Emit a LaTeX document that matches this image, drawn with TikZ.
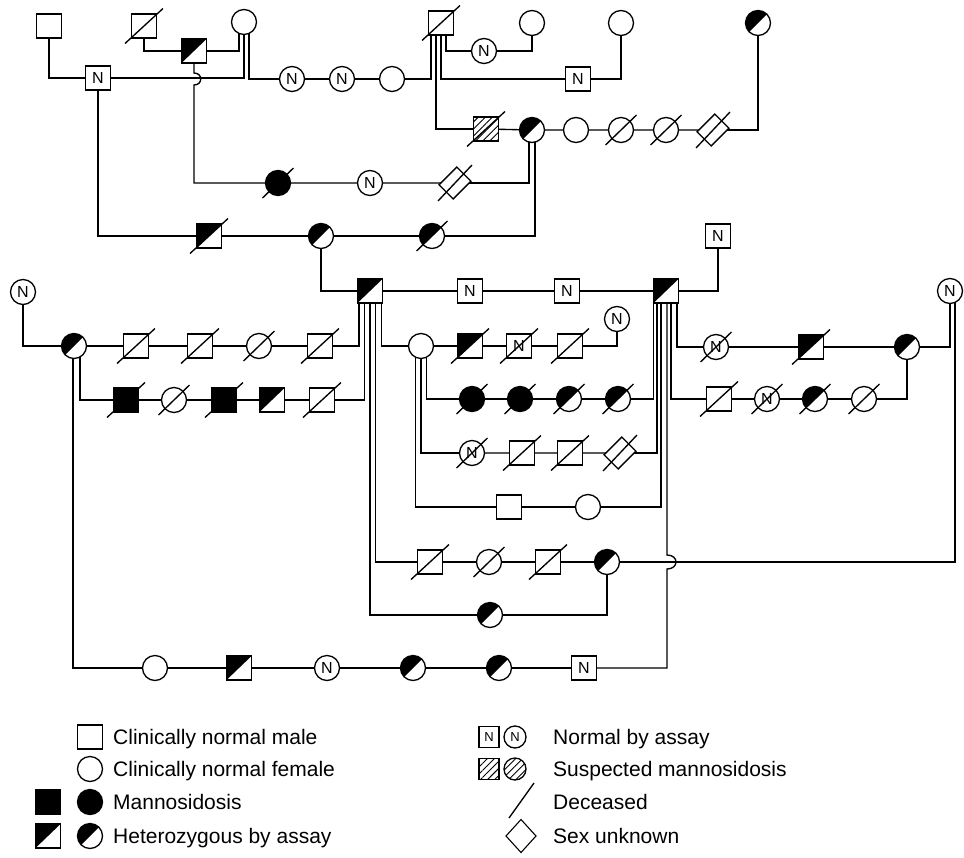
\documentclass[tikz,border=0pt]{standalone}
\usepackage{fontspec}
\setmainfont{Liberation Sans}
\usetikzlibrary{patterns.meta,backgrounds,shapes.geometric}
\begin{document}
\begin{tikzpicture}[x=1pt,y=-1pt,
  sym/.style={draw,fill=white,line width=1.3pt,inner sep=0pt,outer sep=0pt},
  sq/.style={sym,rectangle,minimum width=25pt,minimum height=24pt},
  ci/.style={sym,circle,minimum size=25pt},
  dia/.style={sym,rectangle,rotate=45,minimum width=25pt,minimum height=20pt},
  nl/.style={font=\fontsize{16}{16}\selectfont},
  aff/.style={fill=black},
  het/.style={path picture={\fill[black] (path picture bounding box.south west) -- (path picture bounding box.north west) -- (path picture bounding box.north east) -- cycle;}},
  hatch/.style={preaction={fill=white},pattern={Lines[angle=45,distance=5pt,line width=0.9pt]}},
  ln/.style={line width=1.35pt},
  txt/.style={font=\fontsize{21}{21}\selectfont,anchor=base west,inner sep=0pt},
]
\useasboundingbox (0,0) rectangle (964,857);
% ---------- individuals ----------
\node[sq] (a1) at (49,26) {};
\node[sq] (a2) at (144,26) {};
\node[sq,het] (a3) at (194,51) {};
\node[ci] (a4) at (244,22) {};
\node[sq,nl] (a5) at (98,78) {N};
\node[ci,nl] (a6) at (292,79) {N};
\node[ci,nl] (a7) at (342,79) {N};
\node[ci] (a8) at (392,79) {};
\node[sq] (a9) at (441,23) {};
\node[ci,nl] (a10) at (484,51) {N};
\node[ci] (a11) at (532,23) {};
\node[sq,nl] (a12) at (578,79) {N};
\node[ci] (a13) at (621,23) {};
\node[ci,het] (a14) at (758,23) {};
\node[sq,hatch] (b1) at (486,129) {};
\node[ci,het] (b2) at (532,130) {};
\node[ci] (b3) at (576,130) {};
\node[ci] (b4) at (621,130) {};
\node[ci] (b5) at (666,130) {};
\node[dia] (b6) at (713,130) {};
\node[ci,aff] (c1) at (278,183) {};
\node[ci,nl] (c2) at (370,183) {N};
\node[dia] (c3) at (455,183) {};
\node[sq,het] (d1) at (209,236) {};
\node[ci,het] (d2) at (321,236) {};
\node[ci,het] (d3) at (432,236) {};
\node[sq,het] (e1) at (370,291) {};
\node[sq,nl] (e2) at (470,291) {N};
\node[sq,nl] (e3) at (567,291) {N};
\node[sq,het] (e4) at (666,291) {};
\node[sq,nl] (e5) at (718,236) {N};
\node[ci,nl] (f1) at (23,292) {N};
\node[ci,het] (f2) at (74,346) {};
\node[sq] (f3) at (136,346) {};
\node[sq] (f4) at (200,346) {};
\node[ci] (f5) at (259,346) {};
\node[sq] (f6) at (320,346) {};
\node[sq,aff] (g1) at (126,400) {};
\node[ci] (g2) at (174,400) {};
\node[sq,aff] (g3) at (224,400) {};
\node[sq,het] (g4) at (272,400) {};
\node[sq] (g5) at (322,400) {};
\node[ci] (h1) at (421,346) {};
\node[sq,het] (h2) at (470,346) {};
\node[sq,nl] (h3) at (519,346) {N};
\node[sq] (h4) at (570,346) {};
\node[ci,nl] (h5) at (617,319) {N};
\node[ci,aff] (i1) at (472,399) {};
\node[ci,aff] (i2) at (520,399) {};
\node[ci,het] (i3) at (569,399) {};
\node[ci,het] (i4) at (618,399) {};
\node[ci,nl] (j1) at (472,453) {N};
\node[sq] (j2) at (522,453) {};
\node[sq] (j3) at (570,453) {};
\node[dia] (j4) at (620,453) {};
\node[sq] (k1) at (509,507) {};
\node[ci] (k2) at (588,507) {};
\node[sq] (l1) at (430,562) {};
\node[ci] (l2) at (489,562) {};
\node[sq] (l3) at (548,562) {};
\node[ci,het] (l4) at (607,562) {};
\node[ci,het] (m1) at (490,615) {};
\node[ci] (n1) at (155,668) {};
\node[sq,het] (n2) at (239,668) {};
\node[ci,nl] (n3) at (327,668) {N};
\node[ci,het] (n4) at (413,668) {};
\node[ci,het] (n5) at (499,668) {};
\node[sq,nl] (n6) at (584,668) {N};
\node[ci,nl] (o1) at (716,347) {N};
\node[sq,het] (o2) at (811,347) {};
\node[ci,het] (o3) at (907,347) {};
\node[ci,nl] (o4) at (950,291) {N};
\node[sq] (p1) at (719,399) {};
\node[ci,nl] (p2) at (767,399) {N};
\node[ci,het] (p3) at (815,399) {};
\node[ci] (p4) at (864,399) {};
% ---------- deceased marks ----------
\foreach \n in {a2,a9,b1,d1,f3,f4,f6,g1,g3,g5,h2,h3,h4,j2,j3,l1,l3,o2,p1}
  \draw[ln] ([shift={(-19,17.5)}]\n.center) -- ([shift={(19,-17.5)}]\n.center);
\foreach \n in {b4,b5,c1,d3,f5,g2,i1,i2,i3,i4,j1,l2,o1,p2,p3,p4}
  \draw[ln] ([shift={(-15.5,15)}]\n.center) -- ([shift={(15.5,-15)}]\n.center);
\foreach \n in {b6,c3,j4}
  \draw[ln] ([shift={(-17,18)}]\n.center) -- ([shift={(17,-18)}]\n.center);
% ---------- connectors ----------
\begin{pgfonlayer}{background}
\draw[ln] (a1) |- (a5);
\draw[ln] (a5) -| (a4);
\draw[ln] (a2) |- (a3);
\draw[ln] (a3) -| ([xshift=-5]a4.center);
\draw[ln] ([xshift=5]a4.center) |- (a6);
\draw[ln] (a6) -- (a7) -- (a8);
\draw[ln] (a8) -| ([xshift=-10]a9.center);
\draw[ln] (a9.center) |- (a12);
\draw[ln] ([xshift=5]a9.center) |- (a10);
\draw[ln] (a10) -| (a11);
\draw[ln] (a12) -| (a13);
\draw[ln] ([xshift=-5]a9.center) |- (b1);
\draw[ln] (b1) -- (b2) -- (b3) -- (b4) -- (b5) -- (b6);
\draw[ln] (b6) -| (a14);
\draw[ln] (a3.center) -- (194,73) .. controls (203,73) and (203,85) .. (194,85) |- (c1);
\draw[ln] (c1) -- (c2) -- (c3);
\draw[ln] (c3) -| ([xshift=-3]b2.center);
\draw[ln] (a5) |- (d1);
\draw[ln] (d1) -- (d2) -- (d3);
\draw[ln] (d3) -| ([xshift=3]b2.center);
\draw[ln] (d2) |- (e1);
\draw[ln] (e1) -- (e2) -- (e3) -- (e4);
\draw[ln] (e4) -| (e5);
\draw[ln] (f1) |- (f2);
\draw[ln] (f2) -- (f3) -- (f4) -- (f5) -- (f6);
\draw[ln] (f6) -| ([xshift=-11]e1.center);
\draw[ln] ([xshift=6]f2.center) |- (g1);
\draw[ln] (g1) -- (g2) -- (g3) -- (g4) -- (g5);
\draw[ln] (g5) -| ([xshift=-5.5]e1.center);
\draw[ln] ([xshift=11.5]e1.center) |- (h1);
\draw[ln] (h1) -- (h2) -- (h3) -- (h4);
\draw[ln] (h4) -| (h5);
\draw[ln] ([xshift=5.5]h1.center) |- (i1);
\draw[ln] (i1) -- (i2) -- (i3) -- (i4);
\draw[ln] (i4) -| ([xshift=-12.5]e4.center);
\draw[ln] (h1) |- (j1);
\draw[ln] (j1) -- (j2) -- (j3) -- (j4);
\draw[ln] (j4) -| ([xshift=-9]e4.center);
\draw[ln] ([xshift=-5.5]h1.center) |- (k1);
\draw[ln] (k1) -- (k2);
\draw[ln] (k2) -| ([xshift=-5]e4.center);
\draw[ln] ([xshift=5.5]e1.center) |- (l1);
\draw[ln] (l1) -- (l2) -- (l3) -- (l4);
\draw[ln] (l4) -| ([xshift=5]o4.center);
\draw[ln] (e1) |- (m1);
\draw[ln] (m1) -| (l4);
\draw[ln] ([xshift=-1]f2.center) |- (n1);
\draw[ln] (n1) -- (n2) -- (n3) -- (n4) -- (n5) -- (n6);
\draw[ln] ([xshift=1]e4.center) -- (667,555) .. controls (679,555) and (679,569) .. (667,569) |- (n6);
\draw[ln] ([xshift=11]e4.center) |- (o1);
\draw[ln] (o1) -- (o2) -- (o3);
\draw[ln] (o3) -| (o4);
\draw[ln] ([xshift=5]e4.center) |- (p1);
\draw[ln] (p1) -- (p2) -- (p3) -- (p4);
\draw[ln] (p4) -| (o3);
\end{pgfonlayer}
% ---------- legend ----------
\node[sq] (lg1) at (90,737) {};
\node[ci] (lg2) at (90,769) {};
\node[sq,aff] (lg3) at (48,802) {};
\node[ci,aff] (lg4) at (90,802) {};
\node[sq,het] (lg5) at (48,836) {};
\node[ci,het] (lg6) at (90,836) {};
\node[txt] (t1) at (113,744.5) {Clinically normal male};
\node[txt] (t2) at (113,776.5) {Clinically normal female};
\node[txt] (t3) at (113,809.5) {Mannosidosis};
\node[txt] (t4) at (113,843.5) {Heterozygous by assay};
\node[sym,rectangle,minimum width=20pt,minimum height=21pt,font=\fontsize{13}{13}\selectfont] (lg7) at (489,737) {N};
\node[sym,circle,minimum size=22pt,font=\fontsize{13}{13}\selectfont] (lg8) at (515,737) {N};
\node[sym,rectangle,minimum width=20pt,minimum height=21pt,hatch] (lg9) at (489,769) {};
\node[sym,circle,minimum size=22pt,hatch] (lg10) at (515,769) {};
\coordinate (s1) at (509,818);
\coordinate (s2) at (534,783);
\draw[ln] (s1) -- (s2);
\node[sym,diamond,aspect=0.9,minimum width=30pt,minimum height=33pt,line width=1.1pt] (lg11) at (521,836) {};
\node[txt] (t5) at (553,744.5) {Normal by assay};
\node[txt] (t6) at (553,776.5) {Suspected mannosidosis};
\node[txt] (t7) at (553,809.5) {Deceased};
\node[txt] (t8) at (553,843.5) {Sex unknown};
\end{tikzpicture}
\end{document}
